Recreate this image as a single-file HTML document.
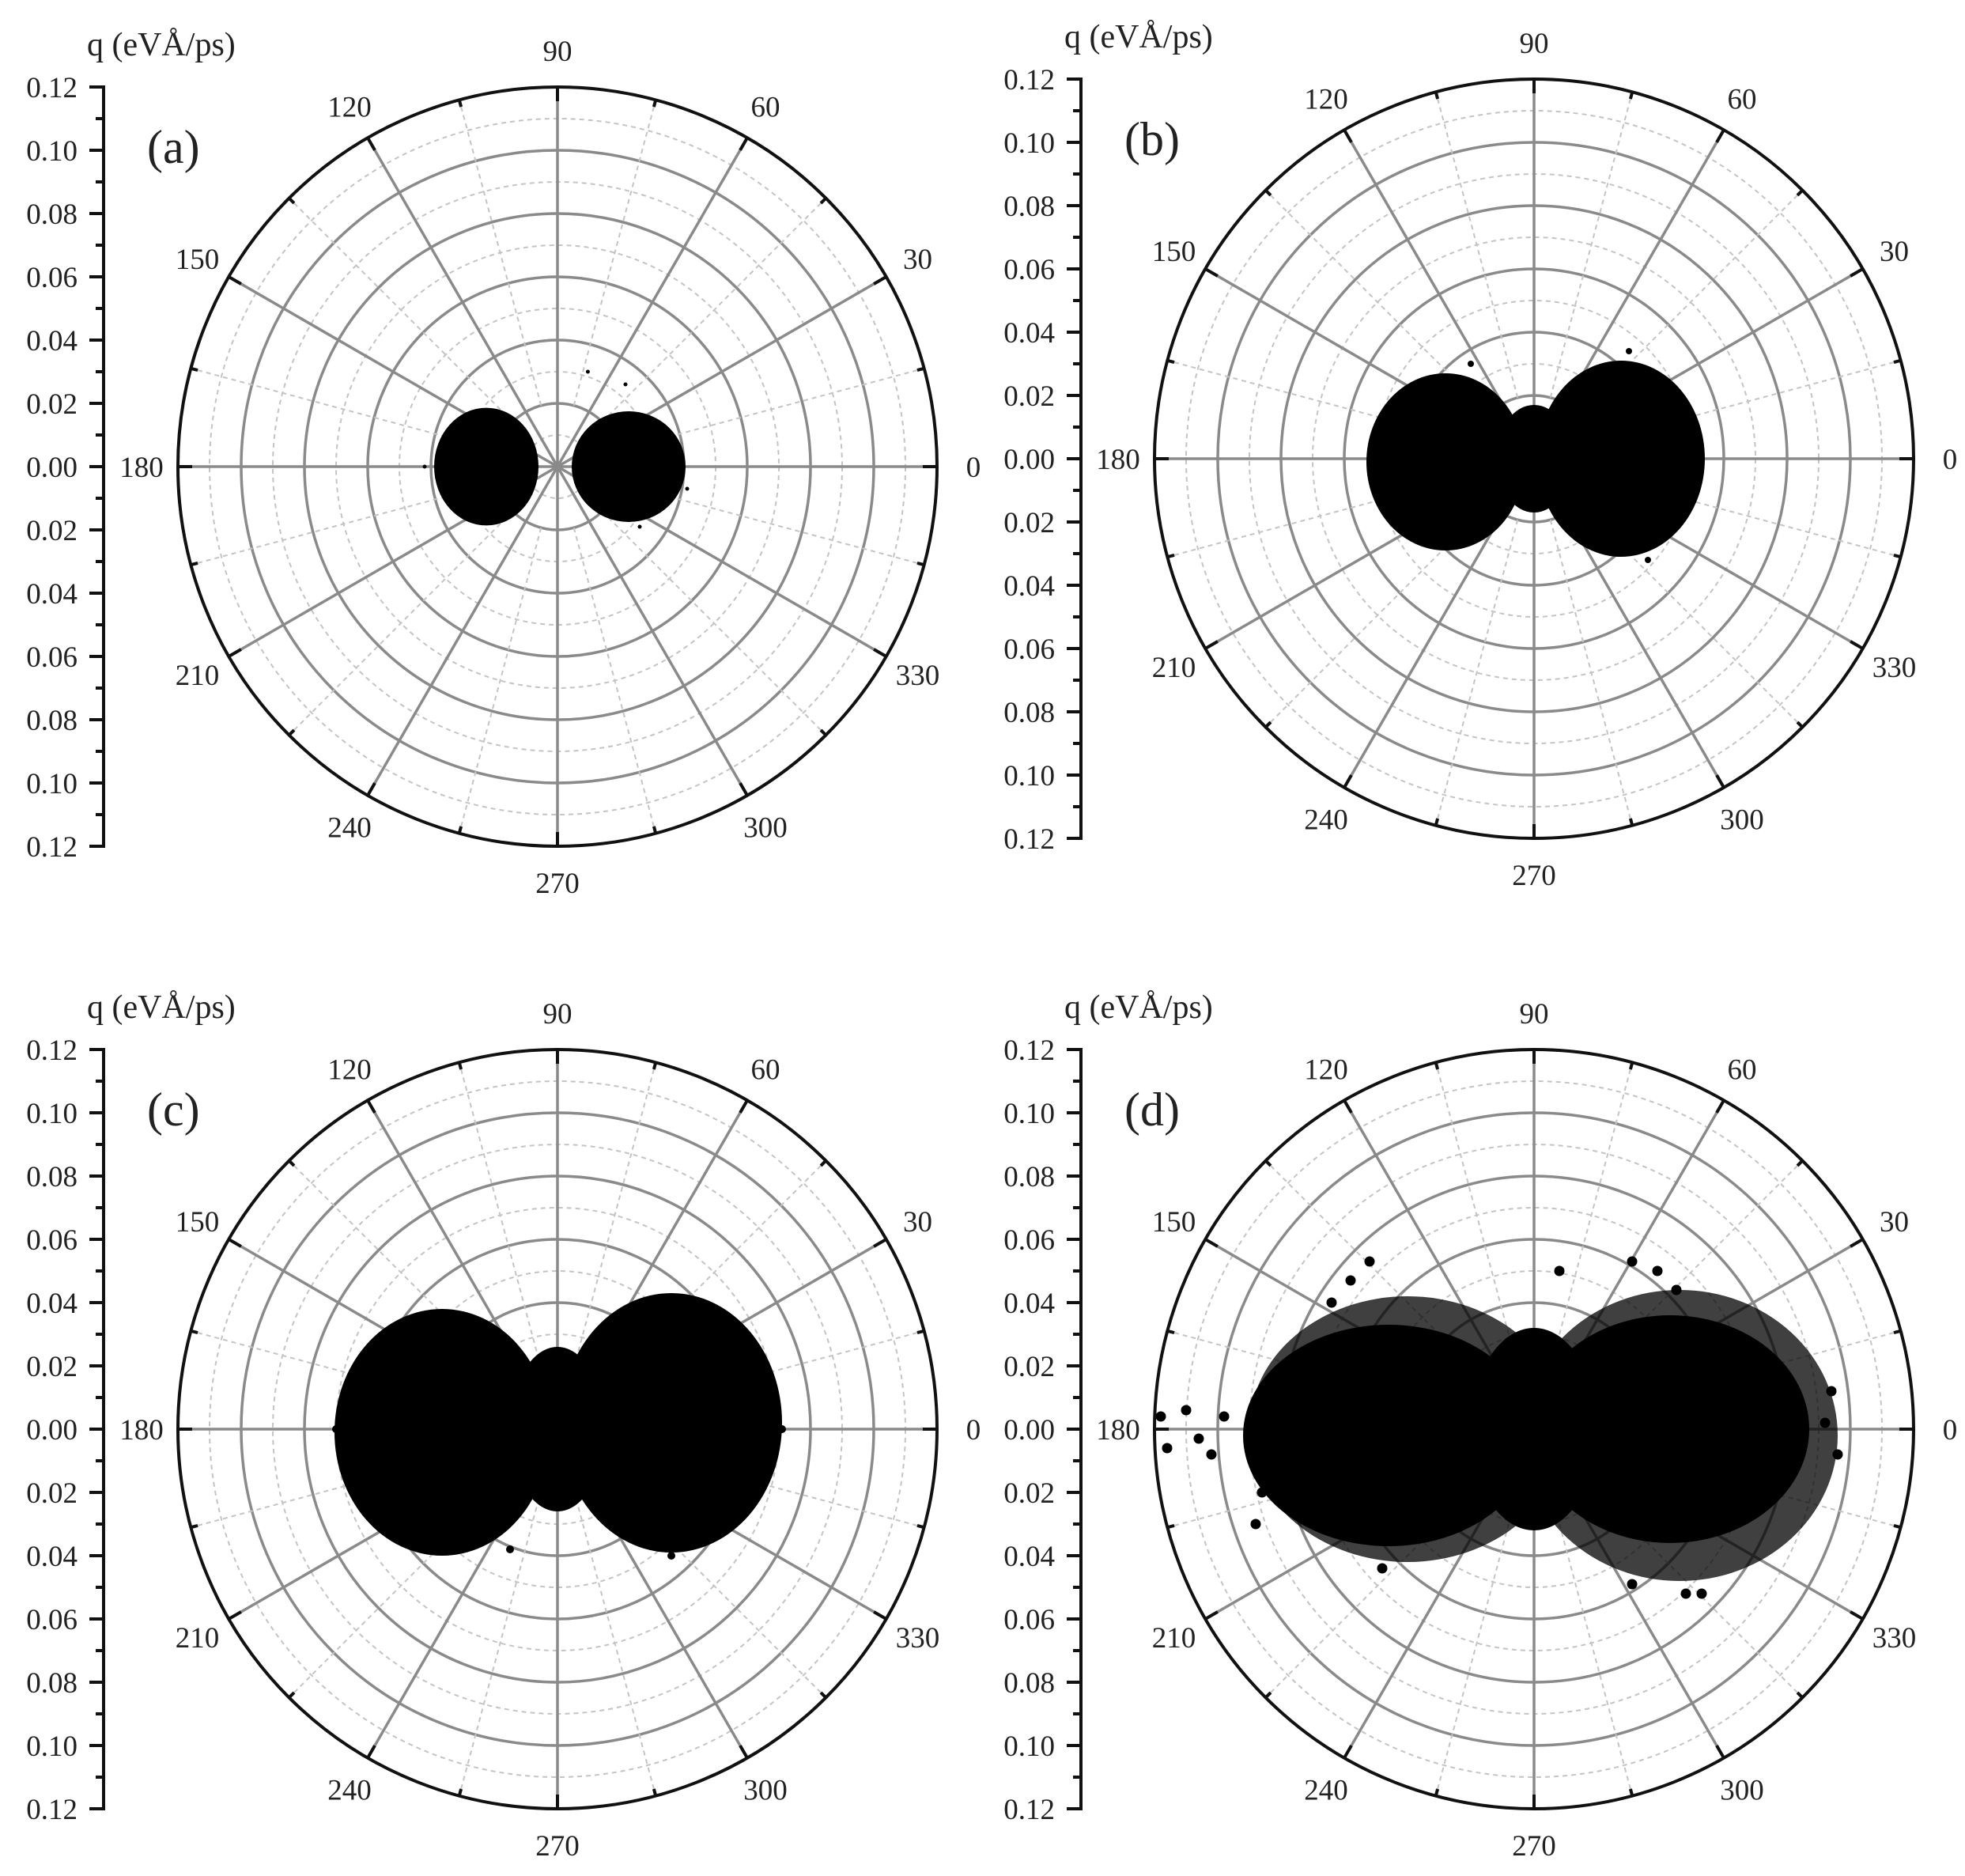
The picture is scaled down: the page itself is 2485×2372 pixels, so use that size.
<!DOCTYPE html>
<html><head><meta charset="utf-8"><style>
html,body{margin:0;padding:0;background:#fff}
svg{display:block}
text{font-family:"Liberation Serif",serif;fill:#222}
</style></head><body>
<svg id="fig" xmlns="http://www.w3.org/2000/svg" width="2485" height="2372" viewBox="0 0 2485 2372"></svg>
<script>
// ---- data ----
const panelLabels = ["(a)","(b)","(c)","(d)"];
const radialTicks = ["0.12","0.10","0.08","0.06","0.04","0.02","0.00","0.02","0.04","0.06","0.08","0.10","0.12"];
const angleTicks = [0,30,60,90,120,150,180,210,240,270,300,330];
// lobe clouds per panel: centre x, centre y, semi x, semi y (q units)
const lobeCx = [[-0.0225,0.0225],[-0.028,0.0275,0.0],[-0.0365,0.036,0.0],[-0.046,0.043,0.0]];
const lobeCy = [[0.0,0.0],[-0.001,0.0,0.0],[-0.001,0.002,0.0],[-0.002,0.0,0.0]];
const lobeSx = [[0.0165,0.018],[0.025,0.0265,0.012],[0.034,0.035,0.015],[0.046,0.044,0.02]];
const lobeSy = [[0.0186,0.0175],[0.028,0.031,0.017],[0.039,0.041,0.026],[0.035,0.036,0.032]];
// sparse fringe clouds (panel d only relevant)
const fringeCx = [[],[],[],[-0.040,0.046]];
const fringeCy = [[],[],[],[0.0,-0.002]];
const fringeSx = [[],[],[],[0.050,0.050]];
const fringeSy = [[],[],[],[0.042,0.046]];
// isolated points (q units, x and y)
const outX = [
 [0.0096,0.041,-0.042,0.026,0.0215],
 [-0.02,0.03,0.036,-0.045,0.052],
 [-0.07,0.071,0.03,-0.015,0.036],
 [-0.118,-0.116,-0.110,-0.106,-0.102,-0.098,-0.088,-0.086,-0.064,0.031,0.039,0.045,0.055,0.094,0.092,0.096,0.048,0.053,0.031,-0.048,-0.052,-0.058,-0.064,0.008]
];
const outY = [
 [0.030,-0.007,0.0,-0.019,0.026],
 [0.030,0.034,-0.032,-0.020,0.004],
 [0.0,0.0,0.04,-0.038,-0.04],
 [0.004,-0.006,0.006,-0.003,-0.008,0.004,-0.030,-0.020,-0.028,0.053,0.050,0.044,0.032,0.012,0.002,-0.008,-0.052,-0.052,-0.049,-0.044,0.053,0.047,0.040,0.050]
];
const dotR = [2.5,4,5,6.5];

const panelCx = [705,1940,705,1940];
const panelCy = [590,580,1807,1807];
const axisXs = [131,1367,131,1367];
const R = 480, QMAX = 0.12, K = R/QMAX;

const NS = "http://www.w3.org/2000/svg";
const svg = document.getElementById('fig');
function mk(tag, attrs, parent){
  const e = document.createElementNS(NS, tag);
  for (const k in attrs) e.setAttribute(k, attrs[k]);
  (parent||svg).appendChild(e); return e;
}
function txt(s, attrs, parent){ const t = mk('text', attrs, parent); t.textContent = s; return t; }

for (let p=0;p<4;p++){
  const cx=panelCx[p], cy=panelCy[p], ax=axisXs[p];
  const g = mk('g',{});
  
  
  const X = q=>cx+q*K, Y = q=>cy-q*K;

  for (let i=1;i<12;i++){
    const c = mk('circle',{cx:cx,cy:cy,r:i*0.01*K,fill:'none',stroke:i%2?'#c4c4c4':'#8a8a8a','stroke-width':i%2?2:3.5,'stroke-dasharray':i%2?'6 5':'none'},g);
    
    
  }
  for (let a=0;a<360;a+=15){
    const rad=a*Math.PI/180, major=a%30===0;
    const r0 = major?0:0.02*K;
    const l = mk('line',{x1:cx+r0*Math.cos(rad),y1:cy-r0*Math.sin(rad),x2:cx+R*Math.cos(rad),y2:cy-R*Math.sin(rad),stroke:major?'#8a8a8a':'#c4c4c4','stroke-width':major?3.5:2,'stroke-dasharray':major?'none':'6 5'},g);
    
    
    const tl = major?18:9;
    const tk = mk('line',{x1:cx+(R-tl)*Math.cos(rad),y1:cy-(R-tl)*Math.sin(rad),x2:cx+R*Math.cos(rad),y2:cy-R*Math.sin(rad),stroke:'#111','stroke-width':4},g);
    
    
  }
  for (let j=0;j<fringeCx[p].length;j++){
    const e = mk('ellipse',{cx:X(fringeCx[p][j]),cy:Y(fringeCy[p][j]),rx:fringeSx[p][j]*K,ry:fringeSy[p][j]*K,fill:'#000','fill-opacity':0.75},g);
    
    
  }
  for (let j=0;j<lobeCx[p].length;j++){
    const e = mk('ellipse',{cx:X(lobeCx[p][j]),cy:Y(lobeCy[p][j]),rx:lobeSx[p][j]*K,ry:lobeSy[p][j]*K,fill:'#000'},g);
    
    
  }
  for (let j=0;j<outX[p].length;j++){
    const d = mk('circle',{cx:X(outX[p][j]),cy:Y(outY[p][j]),r:dotR[p],fill:'#000'},g);
    
    
  }
  const oc = mk('circle',{cx:cx,cy:cy,r:R,fill:'none',stroke:'#111','stroke-width':4},g);
  
  
  for (const a of angleTicks){
    const rad=a*Math.PI/180, rr=R+46;
    const t = txt(String(a),{x:cx+rr*Math.cos(rad),y:cy-rr*Math.sin(rad)+13,'text-anchor':'middle','font-size':37},g);
    
    
  }
  const top = cy-R;
  const al = mk('line',{x1:ax,y1:top-2,x2:ax,y2:cy+R+2,stroke:'#111','stroke-width':4},g);
  
  
  for (let i=0;i<=24;i++){
    const y = top + i*(2*R/24), maj = i%2===0;
    const tk = mk('line',{x1:ax-(maj?18:10),y1:y,x2:ax,y2:y,stroke:'#111','stroke-width':4},g);
    
    
    if (maj){
      const t = txt(radialTicks[i/2],{x:ax-33,y:y+13,'text-anchor':'end','font-size':37},g);
      
      
    }
  }
  const ttl = txt('q (eVÅ/ps)',{x:ax-21,y:top-40,'font-size':42},g);
  
  
  const pl = txt(panelLabels[p],{x:ax+55,y:top+96,'font-size':60},g);
  
  
}
</script>
</body></html>
